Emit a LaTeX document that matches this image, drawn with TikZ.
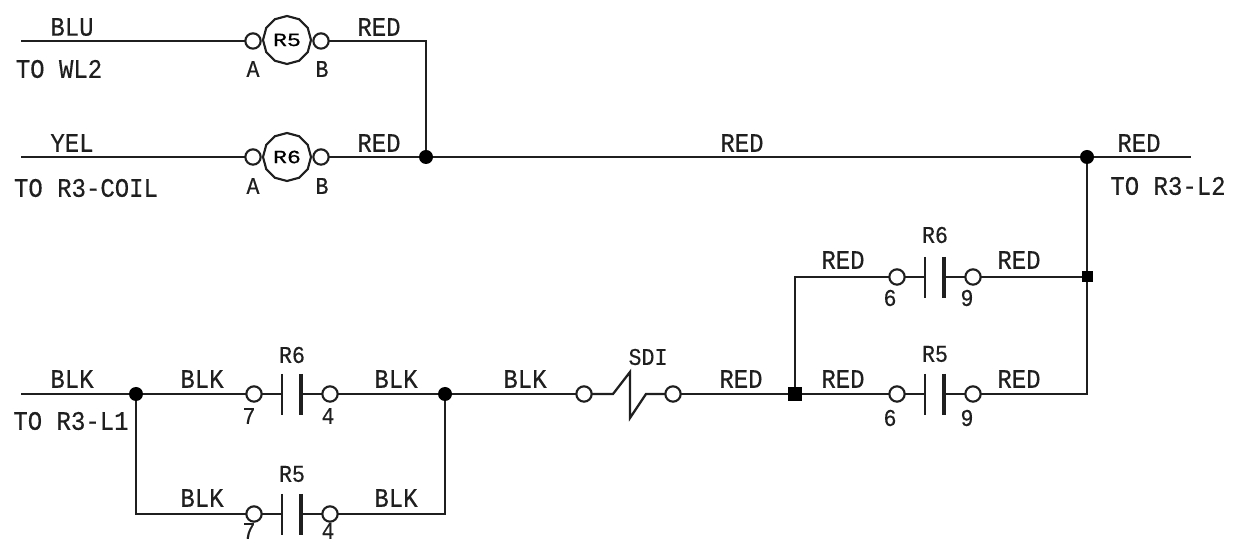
\documentclass[tikz,border=0pt]{standalone}
\usepackage{fontspec}
\setmainfont[FakeStretch=0.9,FakeBold=0.4]{Liberation Mono}
\newfontfamily\coilfont[FakeStretch=1.25,FakeBold=0.4]{Liberation Mono}
\usetikzlibrary{shapes.geometric}
\tikzset{
  x=0.75pt,y=-0.75pt,
  wire/.style={line width=2pt,color=black!88,line join=miter},
  term/.style={circle,draw=black!88,line width=1.6pt,fill=white,minimum size=11.5pt,inner sep=0pt,outer sep=0pt},
  dotj/.style={circle,fill=black,minimum size=10.5pt,inner sep=0pt,outer sep=0pt},
  sqj/.style={rectangle,fill=black,minimum size=8.25pt,inner sep=0pt,outer sep=0pt},
  coil/.style={regular polygon,regular polygon sides=12,shape border rotate=15,draw=black!88,line width=1.6pt,minimum size=36pt,inner sep=0pt,font=\coilfont\fontsize{14}{15}\selectfont},
  lab/.style={inner sep=0pt,font=\fontsize{20}{21}\selectfont,color=black!88},
  tiny/.style={inner sep=0pt,font=\fontsize{18}{19}\selectfont,color=black!88},
  plate/.style={line width=1.8pt,color=black!88},
  platet/.style={line width=2.8pt,color=black!88},
}
\begin{document}
\begin{tikzpicture}
\useasboundingbox (0,0) rectangle (1233,541);
% free ends
\coordinate (s1) at (21,41);
\coordinate (s2) at (21,157);
\coordinate (s3) at (21,394);
\coordinate (e2) at (1191,157);
\coordinate (c1) at (426,41);
\coordinate (c2) at (136,514);
\coordinate (c3) at (445,514);
\coordinate (c4) at (795,277);
\coordinate (c5) at (1087,394);
% junctions
\node[dotj] (j1) at (426,157) {};
\node[dotj] (j2) at (1087,157) {};
\node[sqj] (j3) at (1087,277) {};
\node[dotj] (j4) at (136,394) {};
\node[dotj] (j5) at (445,394) {};
\node[sqj,minimum size=10.5pt] (j6) at (795,394) {};
% coils
\node[coil] (k1) at (287,40) {R5};
\node[coil] (k2) at (287,157) {R6};
\node[term] (k1a) at (253,41) {};
\node[term] (k1b) at (321,41) {};
\node[term] (k2a) at (253,157) {};
\node[term] (k2b) at (321,157) {};
% contacts
\node[term] (a1) at (254,394) {};
\node[term] (a2) at (330,394) {};
\node[term] (b1) at (254,514) {};
\node[term] (b2) at (330,514) {};
\node[term] (u1) at (897,277) {};
\node[term] (u2) at (973,277) {};
\node[term] (d1) at (897,394) {};
\node[term] (d2) at (973,394) {};
% SDI
\node[term] (f1) at (584,394) {};
\node[term] (f2) at (673,394) {};
% wires
\draw[wire] (s1) -- (k1a);
\draw[wire] (k1b) -- (c1) -- (j1);
\draw[wire] (s2) -- (k2a);
\draw[wire] (k2b) -- (j1) -- (j2) -- (e2);
\draw[wire] (j2) -- (j3) -- (c5) -- (d2);
\draw[wire] (j3) -- (u2);
\draw[wire] (j6) -- (c4) -- (u1);
\draw[wire] (j6) -- (d1);
\draw[wire] (s3) -- (j4) -- (a1);
\draw[wire] (a2) -- (j5) -- (f1);
\draw[wire] (j4) -- (c2) -- (b1);
\draw[wire] (b2) -- (c3) -- (j5);
\draw[wire] (f2) -- (j6);
% contact plates
\foreach \lx/\rx/\yy in {254/330/394,254/330/514,897/973/277,897/973/394}{
  \pgfmathsetmacro{\pa}{\lx+28}
  \pgfmathsetmacro{\pb}{\lx+47}
  \pgfmathsetmacro{\ya}{\yy-20}
  \pgfmathsetmacro{\yb}{\yy+21}
  \pgfmathsetmacro{\ra}{\lx+7}
  \pgfmathsetmacro{\rb}{\rx-7}
  \draw[wire] (\ra,\yy) -- (\pa,\yy);
  \draw[wire] (\pb,\yy) -- (\rb,\yy);
  \draw[plate] (\pa,\ya) -- (\pa,\yb);
  \draw[platet] (\pb,\ya) -- (\pb,\yb);
}
% SDI switch
\coordinate (z1) at (613,394);
\coordinate (z2) at (630,372);
\coordinate (z3) at (630,418);
\coordinate (z4) at (646,394);
\draw[wire,line width=1.7pt] (f1) -- (z1) -- (z2) -- (z3) -- (z4) -- (f2);
% labels
\node[lab] (l1) at (72,27) {BLU};
\node[lab] (l2) at (379,27) {RED};
\node[lab] (l3) at (59,69) {TO WL2};
\node[lab] (l4) at (72,143) {YEL};
\node[lab] (l5) at (379,143) {RED};
\node[lab] (l6) at (86,188) {TO R3-COIL};
\node[lab] (l7) at (742,143) {RED};
\node[lab] (l8) at (1139,143) {RED};
\node[lab] (l9) at (1168,186) {TO R3-L2};
\node[lab] (l10) at (843,260) {RED};
\node[lab] (l11) at (1019,260) {RED};
\node[lab] (l12) at (843,379) {RED};
\node[lab] (l13) at (1019,379) {RED};
\node[lab] (l14) at (741,379) {RED};
\node[lab] (l15) at (525,379) {BLK};
\node[lab] (l16) at (72,379) {BLK};
\node[lab] (l17) at (202,379) {BLK};
\node[lab] (l18) at (396,379) {BLK};
\node[lab] (l19) at (202,498) {BLK};
\node[lab] (l20) at (396,498) {BLK};
\node[lab] (l21) at (71,421) {TO R3-L1};
\node[tiny] (m1) at (648,357) {SDI};
\node[tiny] (m2) at (292,355) {R6};
\node[tiny] (m3) at (292,474) {R5};
\node[tiny] (m4) at (935,235) {R6};
\node[tiny] (m5) at (935,354) {R5};
\node[tiny] (m6) at (253,69) {A};
\node[tiny] (m7) at (322,69) {B};
\node[tiny] (m8) at (253,186) {A};
\node[tiny] (m9) at (322,186) {B};
\node[tiny] (m10) at (249,416) {7};
\node[tiny] (m11) at (328,416) {4};
\node[tiny] (m12) at (249,531) {7};
\node[tiny] (m13) at (328,531) {4};
\node[tiny] (m14) at (890,298) {6};
\node[tiny] (m15) at (967,298) {9};
\node[tiny] (m16) at (890,418) {6};
\node[tiny] (m17) at (967,418) {9};
\end{tikzpicture}
\end{document}
